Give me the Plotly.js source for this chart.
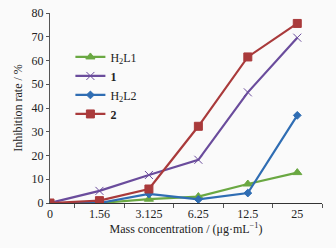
<!DOCTYPE html>
<html><head><meta charset="utf-8">
<script src="https://cdn.plot.ly/plotly-3.0.1.min.js"></script>
<style>html,body{margin:0;padding:0;background:#fafafa}</style>
</head><body>
<div id="chart" style="width:336px;height:248px"></div>
<script>
const categories = ["0","1.56","3.125","6.25","12.5","25"];
const h2l1 = [0, 0, 1.6, 2.7, 8.0, 12.8];
const c1 = [0, 5.1, 11.8, 18.2, 46.6, 69.6];
const h2l2 = [0, 0, 3.8, 1.5, 4.2, 36.9];
const c2 = [0, 1.0, 5.9, 32.3, 61.5, 75.6];
const idx = categories.map((c,i)=>i);
const mk = (y,name,color,symbol,size)=>({
  x: idx, y: y, name: name, type:'scatter', mode:'lines+markers',
  line:{color:color,width:2.2},
  marker:{color:color,symbol:symbol,size:size,line:{color:color,width:1}}
});
const data = [
  mk(h2l1,'H<sub>2</sub>L1','#6aa842','triangle-up',8),
  mk(c1,'<b>1</b>','#6a4c9c','x-thin',8),
  mk(h2l2,'H<sub>2</sub>L2','#2f6db3','diamond',6),
  mk(c2,'<b>2</b>','#a93a3b','square',8)
];
const font = {family:'"Liberation Serif", "Times New Roman", serif', size:12, color:'#222'};
const layout = {
  width:336, height:248,
  margin:{l:50, r:14, t:13, b:45},
  paper_bgcolor:'#fafafa', plot_bgcolor:'#fafafa',
  font: font,
  showlegend:true,
  legend:{x:0.075, y:0.845, xanchor:'left', yanchor:'top', bgcolor:'rgba(0,0,0,0)',
          font:{family:font.family,size:12,color:'#222'}, itemwidth:30, tracegroupgap:0},
  xaxis:{range:[0,5.5], tickmode:'array', tickvals:idx, ticktext:categories,
         ticks:'', showgrid:false, zeroline:false, showline:true, linecolor:'#333', linewidth:1,
         minor:{ticks:'outside', tick0:0.5, dtick:1, ticklen:4, tickcolor:'#555', showgrid:false},
         title:{text:'Mass concentration / (μg·mL<sup>−1</sup>)', font:{family:font.family,size:12,color:'#222'}, standoff:4},
         fixedrange:true},
  yaxis:{range:[0,80], dtick:10, ticks:'outside', ticklen:3, tickcolor:'#555',
         showgrid:false, zeroline:false, showline:true, linecolor:'#555', linewidth:1,
         title:{text:'Inhibition rate / %', font:{family:font.family,size:12,color:'#222'}, standoff:6},
         fixedrange:true}
};
Plotly.newPlot('chart', data, layout, {displayModeBar:false, staticPlot:true});
</script>
</body></html>
